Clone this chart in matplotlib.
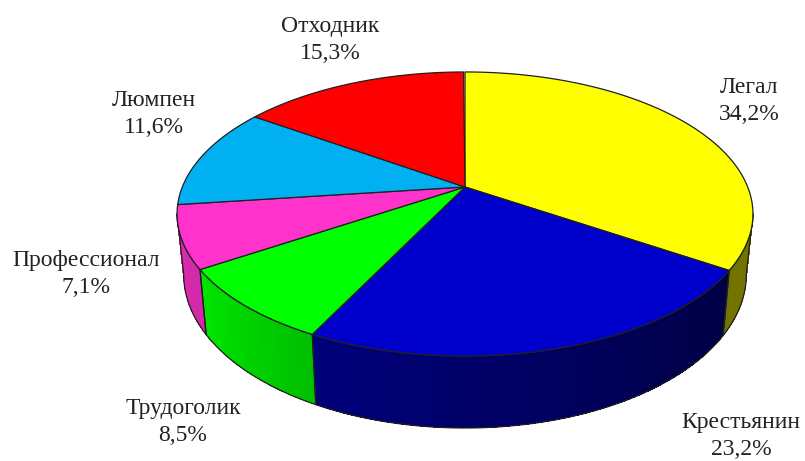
import numpy as np
import matplotlib
matplotlib.use("Agg")
import matplotlib.pyplot as plt
from matplotlib.patches import Polygon
from matplotlib.colors import to_rgb

# data, clockwise from 12 o'clock
categories = ["Легал", "Крестьянин", "Трудоголик", "Профессионал", "Люмпен", "Отходник"]
values = [34.2, 23.2, 8.5, 7.1, 11.6, 15.3]
colors = ["#FFFF00", "#0000CC", "#00FF00", "#FF33CC", "#00B0F0", "#FF0000"]
wall_shades = [(0.45, 0.45), (0.33, 0.60), (0.75, 0.90), (0.82, 0.86), (0.8, 0.8), (0.8, 0.8)]
label_pos = [(749, 101), (741, 436), (183, 422), (86, 274), (154, 114), (330, 40)]

plt.rcParams["font.family"] = ["Liberation Serif", "DejaVu Serif"]
W, H = 805, 461
fig = plt.figure(figsize=(W / 100, H / 100), dpi=100)
ax = fig.add_axes([0, 0, 1, 1])
ax.set_xlim(0, W)
ax.set_ylim(H, 0)
ax.axis("off")

CX, CY, A, B, K, D, SHRINK = 465, 187, 282.7, 136.9, 0.19, 58.3, 0.977


def top(th):
    u, v = np.sin(th), np.cos(th)
    d = 1 + K * v
    return CX + A * u / d, CY - B * v / d


def bottom(th):
    x, y = top(th)
    d = 1 + K * np.cos(th)
    return CX + (x - CX) * SHRINK, y + D / d


edges = np.radians(np.concatenate([[0], np.cumsum(values)]) * 3.6)
rim = dict(ec="#202020", lw=0.9, joinstyle="round")

# walls: only the part of the rim facing the viewer
for i in range(len(values)):
    a0, a1 = edges[i], edges[i + 1]
    lo, hi = max(a0, np.pi / 2 + 0.19), min(a1, 3 * np.pi / 2 - 0.19)
    if hi <= lo:
        continue
    base = np.array(to_rgb(colors[i]))
    s0, s1 = wall_shades[i]
    ts = np.linspace(lo, hi, 41)
    for j in range(40):
        t = np.linspace(ts[j], ts[min(j + 2, 40)], 4)
        xt, yt = top(t)
        xb, yb = bottom(t)
        f = s0 + (s1 - s0) * j / 39
        ax.add_patch(Polygon(np.r_[np.c_[xt, yt], np.c_[xb, yb][::-1]],
                             fc=base * f, ec="none", antialiased=False, zorder=2))
    t = np.linspace(lo, hi, 120)
    xt, yt = top(t)
    xb, yb = bottom(t)
    ax.add_patch(Polygon(np.r_[np.c_[xt, yt], np.c_[xb, yb][::-1]], fill=False, zorder=3, **rim))

# top face
for i in range(len(values)):
    t = np.linspace(edges[i], edges[i + 1], 200)
    x, y = top(t)
    ax.add_patch(Polygon(np.r_[[[CX, CY]], np.c_[x, y]], fc=colors[i], zorder=4, **rim))

for name, val, (x, y) in zip(categories, values, label_pos):
    ax.text(x, y, f"{name}\n{val:.1f}%".replace(".", ","), ha="center", va="center",
            fontsize=17, color="#222222", linespacing=1.39, zorder=5)

fig.savefig("out.png", dpi=100)
